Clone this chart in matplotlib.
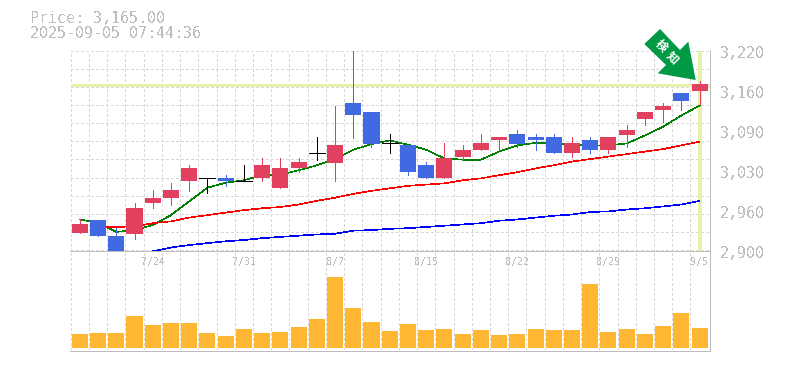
import matplotlib
matplotlib.use('Agg')
import matplotlib.pyplot as plt
from matplotlib.patches import Polygon

# The reference has hard edged, non smoothed drawing
plt.rcParams['text.antialiased'] = False
plt.rcParams['lines.antialiased'] = False

# Daily prices
opens = [2928, 2948, 2922, 2925, 2975, 2984, 3010, 3016, 3016, 3011, 3015, 3000, 3031, 3056, 3040, 3136, 3122, 3072,
         3068, 3037, 3015, 3050, 3060, 3076, 3087, 3082, 3082, 3055, 3077, 3060, 3085, 3111, 3125, 3152, 3155]
closes = [2941, 2922, 2895, 2968, 2984, 2997, 3032, 3016, 3010, 3011, 3037, 3032, 3042, 3056, 3068, 3116, 3071, 3072,
          3026, 3015, 3047, 3061, 3072, 3082, 3071, 3076, 3055, 3072, 3060, 3082, 3092, 3122, 3132, 3140, 3167]
highs = [2949, 2948, 2935, 2975, 2996, 3007, 3037, 3016, 3021, 3037, 3047, 3047, 3047, 3082, 3132, 3240, 3122, 3087,
         3068, 3042, 3072, 3068, 3087, 3082, 3092, 3087, 3087, 3082, 3082, 3082, 3101, 3122, 3136, 3152, 3172]
lows = [2927, 2922, 2890, 2917, 2967, 2972, 2994, 2991, 3003, 3011, 3010, 3000, 3026, 3045, 3010, 3080, 3066, 3055,
        3020, 3015, 3015, 3045, 3060, 3060, 3066, 3060, 3055, 3050, 3055, 3055, 3066, 3100, 3106, 3125, 3135]
volumes = [42, 45, 45, 96, 69, 75, 75, 45, 36, 57, 45, 48, 63, 87, 213, 120, 78, 51,
           72, 54, 57, 42, 54, 39, 42, 57, 54, 54, 192, 48, 57, 42, 66, 105, 60]

# Moving averages, the longer two start later
ma_short = [2949, 2944, 2929, 2932, 2940, 2956, 2978, 3000, 3008, 3012, 3020, 3021, 3028, 3036, 3046, 3061, 3070, 3076,
            3069, 3061, 3047, 3045, 3045, 3058, 3068, 3072, 3072, 3069, 3068, 3068, 3071, 3084, 3098, 3116, 3132]
ma_mid = [2937, 2937, 2938, 2943, 2946, 2952, 2956, 2960, 2964, 2967, 2969, 2973, 2979, 2984, 2990, 2995, 2999,
          3003, 3005, 3007, 3012, 3015, 3020, 3025, 3031, 3036, 3042, 3046, 3050, 3054, 3058, 3062, 3068, 3074]
ma_long = [2898, 2904, 2908, 2911, 2914, 2916, 2919, 2921, 2923, 2925, 2926, 2931, 2932, 2934,
           2935, 2937, 2939, 2941, 2943, 2947, 2949, 2952, 2955, 2957, 2961, 2962, 2965, 2967, 2970, 2973, 2979]

date_idx = [4, 9, 14, 19, 24, 29, 34]
date_labels = ['7/24', '7/31', '8/7', '8/15', '8/22', '8/29', '9/5']
price_ticks = [3220, 3156, 3092, 3028, 2964, 2900]
price_labels = ['3,220', '3,160', '3,090', '3,030', '2,960', '2,900']
last_price = 3165

W, H = 785, 370
GRAY = '#bebebe'
UP = '#e2405f'
DOWN = '#4169e1'
HILITE = '#e6f2a8'
THIN = 0.7
MA_W = 0.45


def pane(top, bottom):
    return [70.7 / W, 1 - bottom / H, (710 - 70.7) / W, (bottom - top) / H]


fig = plt.figure(figsize=(W / 100, H / 100), dpi=100)
ax = fig.add_axes(pane(50.7, 251))
ax2 = fig.add_axes(pane(251, 350))
x = list(range(len(closes)))

for a in (ax, ax2):
    a.set_xlim(-0.5, 34.57)
    a.set_xticks([i - 0.5 for i in x])
    a.tick_params(length=0, labelbottom=False, labelleft=False)
    a.grid(True, axis='x', color='#d8d8d8', lw=THIN, ls=(0, (3, 3)))
    a.set_axisbelow(True)
    for s in a.spines.values():
        s.set_visible(False)

ax.set_ylim(2898.4, 3220)
ax.set_yticks([3220 - k * 320 / 11 for k in range(12)])
ax.grid(True, axis='y', color='#d8d8d8', lw=THIN, ls=(0, (3, 3)))

# Highlight of the latest price and day
ax.axhline(last_price, color=HILITE, lw=2.0, zorder=1.5)
ax.axvline(34, ymin=0.005, color=HILITE, lw=1.7, zorder=1.5)

# Moving averages
ax.plot(x, ma_short, color='#008000', lw=MA_W, zorder=2)
ax.plot(x[1:], ma_mid, color='#ff0000', lw=MA_W, zorder=2)
ax.plot(x[4:], ma_long, color='#0000ff', lw=MA_W, zorder=2)

# Candles
for i in x:
    o, c = opens[i], closes[i]
    col = UP if c > o else DOWN if c < o else 'black'
    ax.plot([i, i], [lows[i], highs[i]], color=col, lw=THIN, zorder=3, solid_capstyle='butt')
    if c == o:
        ax.plot([i - 0.44, i + 0.44], [c, c], color=col, lw=THIN, zorder=3, solid_capstyle='butt')
    else:
        ax.bar(i, abs(c - o), bottom=min(o, c), width=0.88, color=col, zorder=3)

# Volume
ax2.bar(x, volumes, width=0.88, color='#ffb733', zorder=3)
ax2.set_ylim(-6, 291)

# Overlay in pixels for frame, labels and the arrow
ov = fig.add_axes([0, 0, 1, 1])
ov.set_xlim(0, W)
ov.set_ylim(H, 0)
ov.axis('off')
ov.patch.set_alpha(0)

ov.plot([70, 710], [250.5, 250.5], color=GRAY, lw=THIN)
ov.plot([70, 710, 710], [350.5, 350.5, 50], color=GRAY, lw=THIN)

ov.text(30, 18.5, 'Price: 3,165.00', family='DejaVu Sans Mono', fontsize=10.8, color=GRAY, va='center')
ov.text(30, 33.5, '2025-09-05 07:44:36', family='DejaVu Sans Mono', fontsize=10.8, color=GRAY, va='center')

for p, lab in zip(price_ticks, price_labels):
    py = 50.7 + (3220 - p) / 1.6
    ov.text(720, py + 2.5, lab, family='DejaVu Sans Mono', fontsize=10.8, color=GRAY, va='center')

for i, lab in zip(date_idx, date_labels):
    ov.text(80 + i * 18.23, 261.5, lab, family='DejaVu Sans Mono', fontsize=7.2, color=GRAY, va='center', ha='center')

ov.add_patch(Polygon([(695.7, 80), (688.3, 41.7), (680, 50), (660, 29), (644.3, 44), (666, 65), (657.7, 73.3)],
                     closed=True, color='#009944', lw=0, zorder=5))
ov.text(660.7, 45.5, '検', family=['Noto Sans CJK JP', 'DejaVu Sans'], fontsize=8.5, weight='bold', color='white',
        rotation=-45, ha='center', va='center', zorder=6, antialiased=True)
ov.text(672.3, 57.5, '知', family=['Noto Sans CJK JP', 'DejaVu Sans'], fontsize=8.5, weight='bold', color='white',
        rotation=-45, ha='center', va='center', zorder=6, antialiased=True)

fig.savefig('out.png', dpi=100)
